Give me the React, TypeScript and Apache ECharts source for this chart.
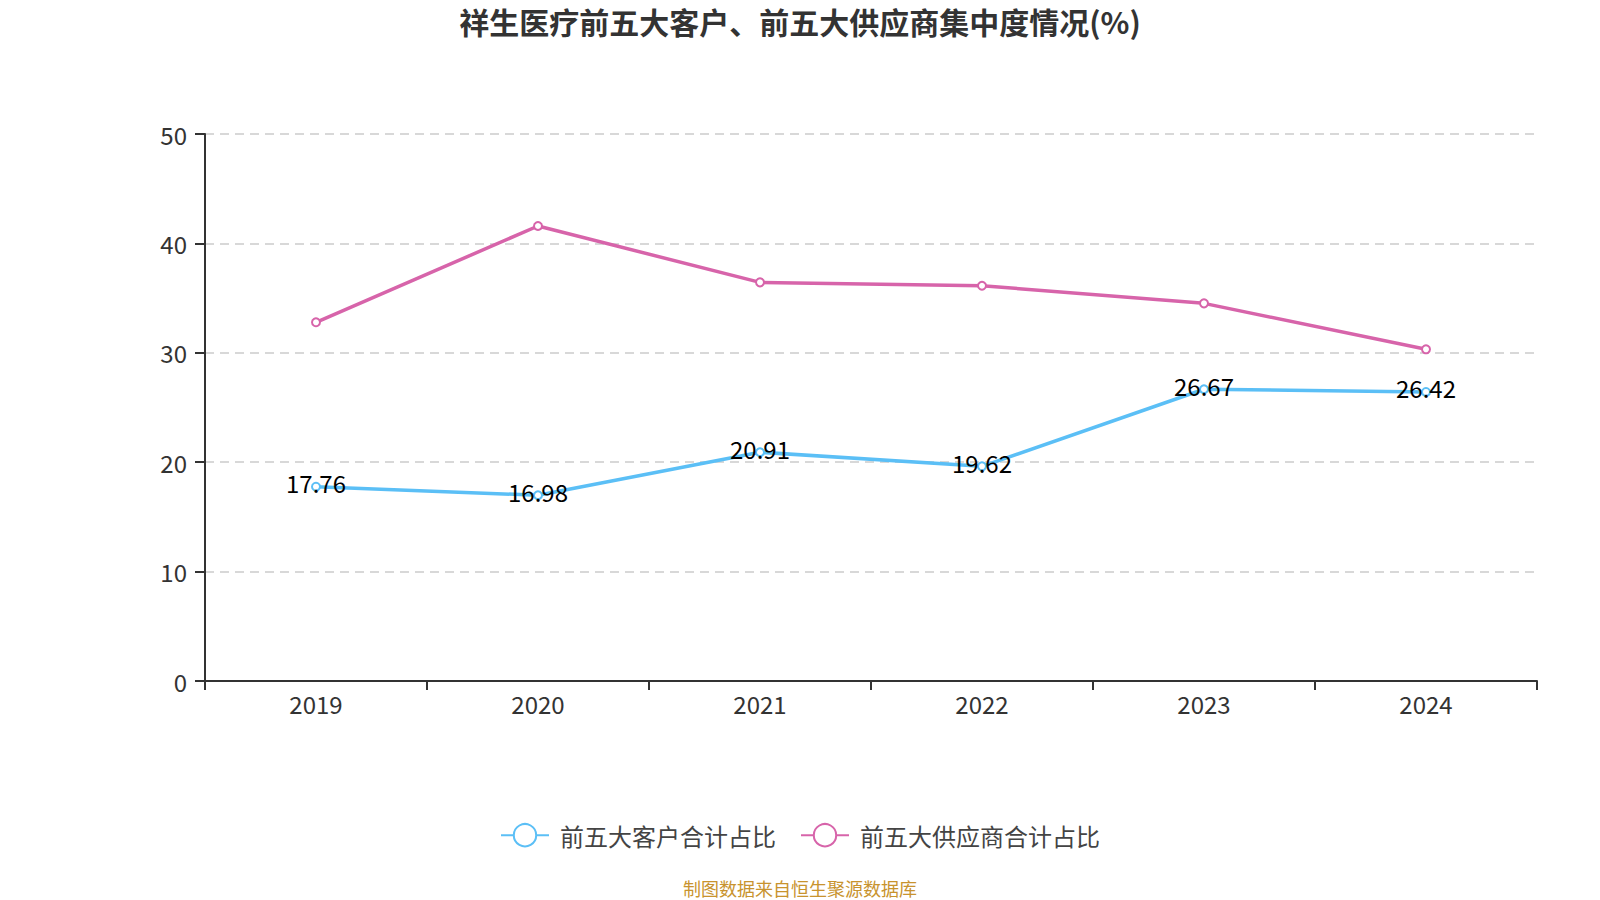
import React, { useEffect, useRef } from "react";
import * as echarts from "echarts";

const years = ["2019", "2020", "2021", "2022", "2023", "2024"];
const customerShare = [17.76, 16.98, 20.91, 19.62, 26.67, 26.42];
const supplierShare = [32.79, 41.59, 36.44, 36.13, 34.52, 30.32];
const seriesNames = ["前五大客户合计占比", "前五大供应商合计占比"];
const titleText = "祥生医疗前五大客户、前五大供应商集中度情况(%)";
const footerText = "制图数据来自恒生聚源数据库";

const FONT = '"Noto Sans CJK SC", "Noto Sans", sans-serif';

export default function App() {
  const ref = useRef<HTMLDivElement>(null);
  useEffect(() => {
    if (!ref.current) return;
    const chart = echarts.init(ref.current, undefined, { renderer: "svg" });
    chart.setOption({
      animation: false,
      backgroundColor: "#ffffff",
      textStyle: { fontFamily: FONT },
      title: {
        text: titleText,
        left: "center",
        top: 5,
        padding: 0,
        textStyle: {
          fontSize: 30,
          lineHeight: 32,
          fontWeight: "bold",
          color: "#333333",
          fontFamily: FONT,
        },
      },
      legend: {
        data: seriesNames,
        left: "center",
        top: 818,
        itemWidth: 48,
        itemHeight: 28,
        itemGap: 24,
        textStyle: { fontSize: 24, color: "#444444", fontFamily: FONT, padding: [0, 0, 0, 6] },
      },
      grid: { left: 205, right: 63, top: 134, bottom: 219, containLabel: false },
      xAxis: {
        type: "category",
        data: years,
        boundaryGap: true,
        axisLine: { lineStyle: { color: "#333333", width: 2 } },
        axisTick: { show: true, length: 9, lineStyle: { color: "#333333", width: 2 } },
        axisLabel: { fontSize: 24, color: "#333333", margin: 10, fontFamily: FONT },
        splitLine: { show: false },
      },
      yAxis: {
        type: "value",
        min: 0,
        max: 50,
        interval: 10,
        axisLine: { show: true, lineStyle: { color: "#333333", width: 2 } },
        axisTick: { show: true, length: 10, lineStyle: { color: "#333333", width: 2 } },
        axisLabel: { fontSize: 24, color: "#333333", margin: 18, fontFamily: FONT },
        splitLine: { show: true, lineStyle: { color: "#cccccc", width: 1.5, type: [9, 6] } },
      },
      series: [
        {
          name: seriesNames[0],
          type: "line",
          data: customerShare,
          symbol: "emptyCircle",
          symbolSize: 8,
          color: "#5bbff6",
          lineStyle: { width: 3.5, color: "#5bbff6" },
          itemStyle: { color: "#5bbff6", borderWidth: 2 },
          label: {
            show: true,
            position: "inside",
            offset: [0, -4],
            fontSize: 24,
            color: "#000000",
            fontFamily: FONT,
          },
          z: 3,
        },
        {
          name: seriesNames[1],
          type: "line",
          data: supplierShare,
          symbol: "emptyCircle",
          symbolSize: 8,
          color: "#d764aa",
          lineStyle: { width: 3.5, color: "#d764aa" },
          itemStyle: { color: "#d764aa", borderWidth: 2 },
          label: { show: false },
          z: 2,
        },
      ],
      graphic: [
        {
          type: "text",
          x: 800,
          y: 888,
          style: {
            text: footerText,
            fontSize: 18,
            fill: "#c8932e",
            fontFamily: FONT,
            align: "center",
            verticalAlign: "middle",
          },
        },
      ],
    });
    return () => chart.dispose();
  }, []);
  return (
    <div
      ref={ref}
      style={{ position: "absolute", left: 0, top: 0, width: 1600, height: 900 }}
    />
  );
}
